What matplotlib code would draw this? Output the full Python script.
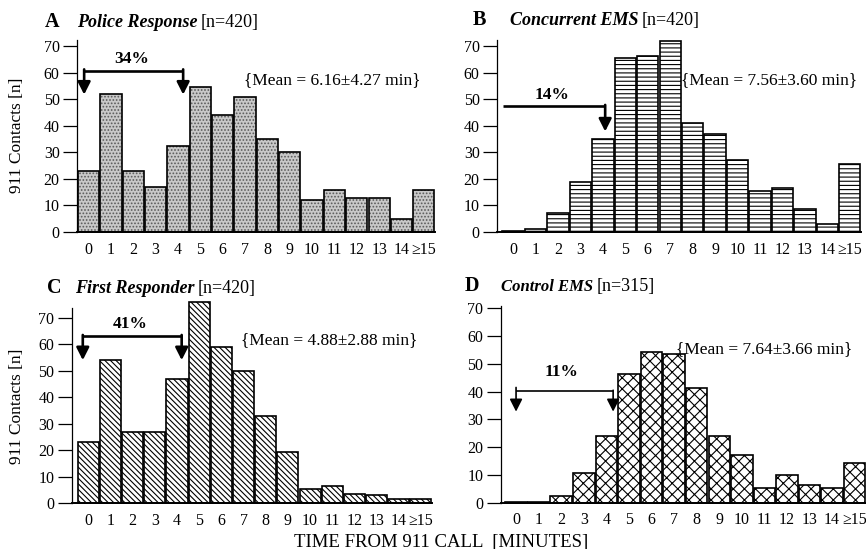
import numpy as np
import matplotlib
matplotlib.use("Agg")
import matplotlib.pyplot as plt

# ---------------- data ----------------
categories = ["0", "1", "2", "3", "4", "5", "6", "7", "8", "9", "10", "11", "12", "13", "14", "\u226515"]
police = [23, 52, 23, 17, 32.5, 54.5, 44, 51, 35, 30, 12, 16, 13, 13, 5, 16]
concurrent = [0.3, 1.1, 7, 19, 35, 65.5, 66.5, 72, 41, 37, 27, 15.5, 16.5, 8.5, 3, 25.5]
first_resp = [23, 54, 27, 27, 47, 76, 59, 50, 33, 19.5, 5.5, 6.5, 3.5, 3, 1.5, 1.5]
control = [0.4, 0.4, 2.5, 10.8, 24, 46.3, 54.2, 53.6, 41.4, 24, 17.3, 5.2, 9.8, 6.4, 5.2, 14.4]
yticks = [0, 10, 20, 30, 40, 50, 60, 70]

panel_letters = ["A", "B", "C", "D"]
panel_names = ["Police Response", "Concurrent EMS", "First Responder", "Control EMS"]
panel_n = ["[n=420]", "[n=420]", "[n=420]", "[n=315]"]
pct_labels = ["34%", "14%", "41%", "11%"]
mean_labels = ["{Mean = 6.16\u00b14.27 min}", "{Mean = 7.56\u00b13.60 min}",
               "{Mean = 4.88\u00b12.88 min}", "{Mean = 7.64\u00b13.66 min}"]

# ---------------- style ----------------
plt.rcParams['font.family'] = ['Liberation Serif', 'DejaVu Serif']
plt.rcParams['hatch.linewidth'] = 0.8

W, H = 866, 549
fig = plt.figure(figsize=(W / 100, H / 100), dpi=100)


def px_rect(left, right, y0, top):
    return [left / W, 1 - y0 / H, (right - left) / W, (y0 - top) / H]


# axes layout (pixel measurements)
layouts = [
    dict(rect=px_rect(77, 435, 232, 232 - 77 * 2.653), xlim=(-0.52, 15.5), ylim=77, spine_top=72.5),
    dict(rect=px_rect(497, 861, 232, 232 - 77 * 2.653), xlim=(-0.72, 15.5), ylim=77, spine_top=72.5),
    dict(rect=px_rect(71.7, 432, 503.3, 503.3 - 77 * 2.651), xlim=(-0.75, 15.5), ylim=77, spine_top=73.5),
    dict(rect=px_rect(500.7, 866, 502.7, 502.7 - 73 * 2.777), xlim=(-0.68, 15.5), ylim=73, spine_top=70.8),
]
series = [police, concurrent, first_resp, control]
hatches = ['.....', '----', '\\\\\\\\\\\\', 'xxx']
faces = ['#c9c9c9', 'white', 'white', 'white']
hcolors = ['#5a5a5a', 'black', 'black', 'black']

x = np.arange(len(categories))
axes = []
for i, lay in enumerate(layouts):
    ax = fig.add_axes(lay['rect'])
    axes.append(ax)
    vals = series[i]
    ax.bar(x, vals, width=0.95, color=faces[i], hatch=hatches[i], edgecolor=hcolors[i],
           linewidth=0, clip_on=False, zorder=2)
    ax.bar(x, vals, width=0.95, fill=False, edgecolor='black', linewidth=1.2,
           clip_on=False, zorder=3)
    ax.set_xlim(*lay['xlim'])
    ax.set_ylim(0, lay['ylim'])
    for s in ['top', 'right']:
        ax.spines[s].set_visible(False)
    ax.spines['left'].set_bounds(0, lay['spine_top'])
    ax.spines['left'].set_linewidth(0.9)
    ax.spines['bottom'].set_linewidth(1.4)
    ax.set_yticks(yticks)
    ax.set_yticklabels([str(t) for t in yticks])
    ax.tick_params(axis='y', direction='out', length=10, width=0.9, pad=2.5, labelsize=11.5)
    ax.set_xticks(x)
    ax.set_xticklabels(categories)
    ax.tick_params(axis='x', length=0, pad=7, labelsize=11.5)
    ax.patch.set_visible(False)


def arrow_down(ax, xa, y_from, y_to, lw):
    ax.annotate('', xy=(xa, y_to), xytext=(xa, y_from),
                arrowprops=dict(arrowstyle='-|>,head_length=0.75,head_width=0.38',
                                lw=lw, color='black', shrinkA=0, shrinkB=0,
                                mutation_scale=10), zorder=5, annotation_clip=False)


# Panel A
ax = axes[0]
ax.plot([-0.2, 4.23], [60.8, 60.8], color='black', lw=1.9, solid_capstyle='butt', zorder=5, clip_on=False)
arrow_down(ax, -0.2, 61.3, 51.8, 1.9)
arrow_down(ax, 4.23, 61.3, 51.8, 1.9)
ax.text(1.93, 65.2, pct_labels[0], ha='center', va='center', fontsize=12.5, fontweight='bold')
ax.text(6.96, 57.4, mean_labels[0], ha='left', va='center', fontsize=12.5)

# Panel B
ax = axes[1]
ax.plot([-0.44, 4.1], [47.4, 47.4], color='black', lw=1.9, solid_capstyle='butt', zorder=5, clip_on=False)
arrow_down(ax, 4.1, 47.9, 37.9, 1.9)
ax.text(1.72, 51.8, pct_labels[1], ha='center', va='center', fontsize=12.5, fontweight='bold')
ax.text(7.47, 57.4, mean_labels[1], ha='left', va='center', fontsize=12.5)

# Panel C
ax = axes[2]
ax.plot([-0.25, 4.21], [63, 63], color='black', lw=1.9, solid_capstyle='butt', zorder=5, clip_on=False)
arrow_down(ax, -0.25, 63.5, 54, 1.9)
arrow_down(ax, 4.21, 63.5, 54, 1.9)
ax.text(1.88, 67.8, pct_labels[2], ha='center', va='center', fontsize=12.5, fontweight='bold')
ax.text(6.87, 61.5, mean_labels[2], ha='left', va='center', fontsize=12.5)

# Panel D
ax = axes[3]
ax.plot([0, 4.3], [40.3, 40.3], color='black', lw=1.2, solid_capstyle='butt', zorder=5, clip_on=False)
arrow_down(ax, 0, 41.5, 32.8, 1.2)
arrow_down(ax, 4.3, 40.5, 32.8, 1.2)
ax.text(2.0, 47.2, pct_labels[3], ha='center', va='center', fontsize=12.5, fontweight='bold')
ax.text(7.1, 55.3, mean_labels[3], ha='left', va='center', fontsize=12.5)


# ---------------- titles ----------------
def ftext(xp, yp, s, **kw):
    return fig.text(xp / W, 1 - yp / H, s, **kw)


title_pos = [
    (45, 77, 26.7, 13),
    (473, 510, 25, 13),
    (47, 75, 293, 13),
    (465, 501, 291, 12),
]
for i, (xl, xn, yb, fsz) in enumerate(title_pos):
    ftext(xl, yb, panel_letters[i], fontsize=14.5, fontweight='bold', va='baseline')
    tn = ftext(xn, yb, panel_names[i], fontsize=fsz, fontweight='bold', fontstyle='italic', va='baseline')
    fig.add_artist(plt.matplotlib.text.Annotation(
        panel_n[i], xy=(1, 0), xycoords=tn, xytext=(2.5, 0), textcoords='offset points',
        va='bottom', ha='left', fontsize=13))

ftext(17, 135, "911 Contacts [n]", rotation=90, ha='center', va='center', fontsize=12.5)
ftext(17, 406, "911 Contacts [n]", rotation=90, ha='center', va='center', fontsize=12.5)
ftext(441, 546.5, "TIME FROM 911 CALL  [MINUTES]", ha='center', va='baseline', fontsize=13.5)

fig.savefig("out.png", dpi=100)
